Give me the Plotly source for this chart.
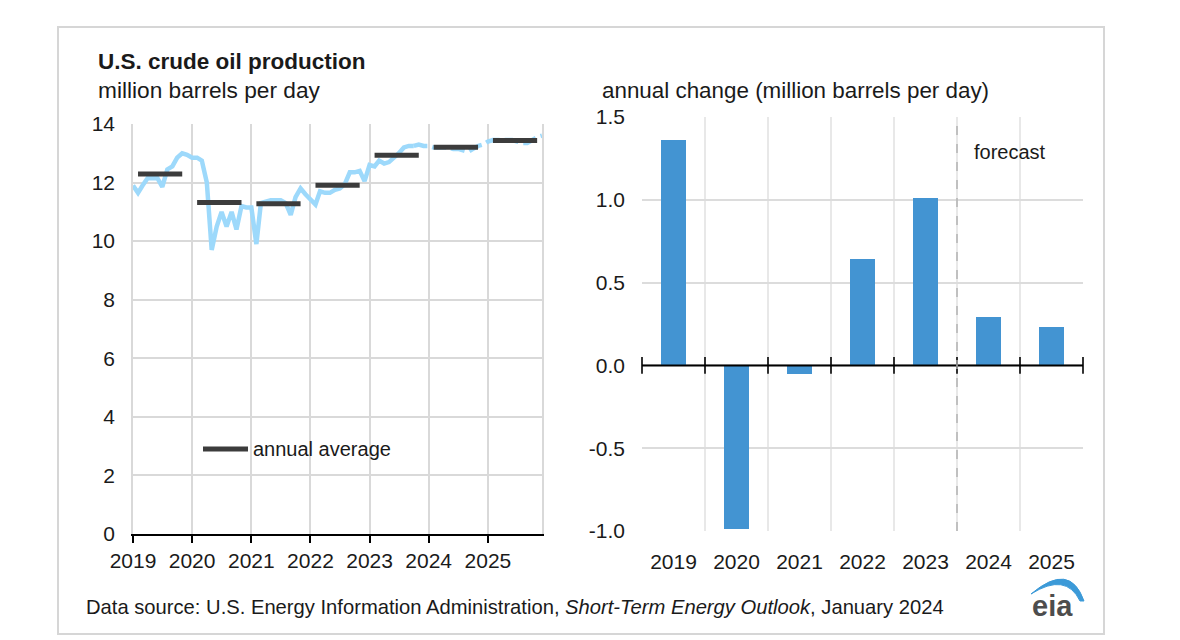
import pandas as pd
import plotly.graph_objects as go

# ---------------- data ----------------
years = [2019, 2020, 2021, 2022, 2023, 2024, 2025]

# monthly U.S. crude oil production, million barrels per day (Jan 2019 - Dec 2025)
production = [
    # 2019
    11.90, 11.65, 11.90, 12.15, 12.15, 12.15, 11.85, 12.45, 12.55, 12.85, 13.00, 12.95,
    # 2020
    12.85, 12.85, 12.75, 12.00, 9.70, 10.50, 11.00, 10.50, 11.00, 10.40, 11.20, 11.15,
    # 2021
    11.15, 9.90, 11.30, 11.35, 11.40, 11.40, 11.40, 11.30, 10.90, 11.50, 11.80, 11.60,
    # 2022
    11.40, 11.25, 11.70, 11.65, 11.65, 11.75, 11.80, 11.95, 12.35, 12.35, 12.40, 12.05,
    # 2023
    12.60, 12.55, 12.75, 12.65, 12.70, 12.85, 13.00, 13.20, 13.25, 13.25, 13.30, 13.25,
    # 2024
    13.25, 13.20, 13.20, 13.20, 13.20, 13.15, 13.15, 13.10, 13.05, 13.15, 13.25, 13.30,
    # 2025
    13.40, 13.45, 13.45, 13.45, 13.45, 13.45, 13.40, 13.35, 13.35, 13.45, 13.55, 13.60,
]
last_history_month = "2023-10-01"

annual_average = [12.29, 11.32, 11.28, 11.91, 12.93, 13.21, 13.44]
annual_change = [1.36, -0.99, -0.05, 0.64, 1.01, 0.29, 0.23]
first_forecast_year = 2024

left_yticks = [0, 2, 4, 6, 8, 10, 12, 14]
right_yticks = [-1.0, -0.5, 0.0, 0.5, 1.0, 1.5]

# ---------------- layout helpers ----------------
W, H = 1180, 640
def px(x):
    return x / W
def py(y):
    return 1 - y / H

FONT = "Liberation Sans, Arial, sans-serif"
TXT = "#1a1a1a"
LIGHT_BLUE = "#9dd9fb"
BAR_BLUE = "#4394d2"
DARK = "#3c3c3c"
GRID = "#d9d9d9"

months = pd.date_range("2019-01-01", periods=len(production), freq="MS")
s = pd.Series(production, index=months)
hist = s[s.index <= last_history_month]
fcst = s[s.index >= last_history_month]

fig = go.Figure()

# monthly production (history solid, forecast dashed)
fig.add_trace(go.Scatter(x=hist.index, y=hist.values, mode="lines",
                         line=dict(color=LIGHT_BLUE, width=4.5),
                         showlegend=False, xaxis="x", yaxis="y"))
fig.add_trace(go.Scatter(x=fcst.index, y=fcst.values, mode="lines",
                         line=dict(color=LIGHT_BLUE, width=4.5, dash="14px,5px"),
                         showlegend=False, xaxis="x", yaxis="y"))

# annual averages as short horizontal segments
ax, ay = [], []
for yr, v in zip(years, annual_average):
    ax += [f"{yr}-02-01", f"{yr}-11-01", None]
    ay += [v, v, None]
fig.add_trace(go.Scatter(x=ax, y=ay, mode="lines", name="annual average",
                         line=dict(color=DARK, width=5), connectgaps=False,
                         showlegend=False, xaxis="x", yaxis="y"))

# annual change bars
idx = list(range(len(years)))
fig.add_trace(go.Bar(x=idx, y=annual_change, width=0.4,
                     marker=dict(color=BAR_BLUE, line=dict(width=0)),
                     showlegend=False, xaxis="x2", yaxis="y2"))

# zero axis line with crossing tick marks at category boundaries
bounds = [i - 0.5 for i in range(len(years) + 1)]
fig.add_trace(go.Scatter(x=bounds, y=[0] * len(bounds), mode="lines+markers",
                         line=dict(color="black", width=2),
                         marker=dict(symbol="line-ns-open", size=12,
                                     line=dict(color="black", width=1.6)),
                         cliponaxis=False, showlegend=False, hoverinfo="skip",
                         xaxis="x2", yaxis="y2"))

tickfont = dict(family=FONT, size=21, color=TXT)

fig.update_layout(
    template="none",
    width=W, height=H, autosize=False,
    margin=dict(l=0, r=0, t=0, b=0, pad=0, autoexpand=False),
    paper_bgcolor="white", plot_bgcolor="white",
    font=dict(family=FONT, color=TXT),
    bargap=0,
    showlegend=False,
    xaxis=dict(
        domain=[px(133), px(542)],
        type="date",
        range=[months[0], months[-1]],
        tickmode="array",
        tickvals=[f"{y}-01-01" for y in years],
        ticktext=[str(y) for y in years],
        showgrid=True, gridcolor=GRID, gridwidth=1.5,
        showline=True, linecolor="black", linewidth=2,
        ticks="outside", ticklen=7, tickwidth=1.5, tickcolor="black",
        tickfont=tickfont, ticklabelstandoff=0,
        zeroline=False, anchor="y", automargin=False,
    ),
    yaxis=dict(
        domain=[py(534), py(124)],
        range=[0, 14],
        tickmode="array", tickvals=left_yticks,
        ticktext=[str(v) for v in left_yticks],
        showgrid=True, gridcolor=GRID, gridwidth=1.5,
        showline=True, linecolor=GRID, linewidth=1.5, mirror=True,
        ticks="", tickfont=tickfont, ticklabelstandoff=12,
        zeroline=False, anchor="x", automargin=False,
    ),
    xaxis2=dict(
        domain=[px(642), px(1083)],
        range=[-0.5, len(years) - 0.5],
        tickmode="array", tickvals=idx, ticktext=[str(y) for y in years],
        showgrid=False, showline=False, ticks="",
        minor=dict(tickmode="array", tickvals=bounds, showgrid=True,
                   gridcolor="#e8e8e8", gridwidth=1.5, ticks=""),
        tickfont=tickfont, ticklabelstandoff=16,
        zeroline=False, anchor="y2", automargin=False,
    ),
    yaxis2=dict(
        domain=[py(531), py(117)],
        range=[-1.0, 1.5],
        tickmode="array", tickvals=right_yticks,
        ticktext=[f"{v:.1f}" for v in right_yticks],
        showgrid=True, gridcolor="#dcdcdc", gridwidth=1.5,
        showline=False, ticks="", zeroline=False,
        tickfont=tickfont, ticklabelstandoff=16, anchor="x2", automargin=False,
    ),
)

# in-chart key for the annual average series
fig.add_shape(type="line", xref="paper", yref="paper",
              x0=px(203), x1=px(248), y0=py(449), y1=py(449),
              line=dict(color=DARK, width=5))
fig.add_annotation(xref="paper", yref="paper", x=px(251), y=py(449), xanchor="left", yanchor="middle",
                   text="annual average", showarrow=False,
                   font=dict(family=FONT, size=20, color=TXT))

# forecast divider
fc = years.index(first_forecast_year) - 0.5
fig.add_shape(type="line", xref="x2", yref="y2 domain", x0=fc, x1=fc, y0=0, y1=1,
              line=dict(color="#b3b3b3", width=1.5, dash="dash"))
fig.add_annotation(xref="x2", yref="y2", x=fc, y=1.29, xanchor="left", yanchor="middle",
                   xshift=15, text="forecast", showarrow=False,
                   font=dict(family=FONT, size=20, color=TXT))

# outer frame
fig.add_shape(type="rect", xref="paper", yref="paper",
              x0=px(58), x1=px(1104), y0=py(634), y1=py(27),
              line=dict(color="#d6d6d6", width=2), fillcolor="rgba(0,0,0,0)", layer="below")

# titles
fig.add_annotation(xref="paper", yref="paper", x=px(96), y=py(61), xanchor="left", yanchor="middle",
                   text="<b>U.S. crude oil production</b>", showarrow=False,
                   font=dict(family=FONT, size=22.5, color=TXT))
fig.add_annotation(xref="paper", yref="paper", x=px(96), y=py(90), xanchor="left", yanchor="middle",
                   text="million barrels per day", showarrow=False,
                   font=dict(family=FONT, size=22.7, color=TXT))
fig.add_annotation(xref="paper", yref="paper", x=px(600), y=py(90), xanchor="left", yanchor="middle",
                   text="annual change (million barrels per day)", showarrow=False,
                   font=dict(family=FONT, size=22.4, color=TXT))

# footer
fig.add_annotation(xref="paper", yref="paper", x=px(84), y=py(607), xanchor="left", yanchor="middle",
                   text="Data source: U.S. Energy Information Administration, <i>Short-Term Energy Outlook</i>, January 2024",
                   showarrow=False, font=dict(family=FONT, size=20.2, color=TXT))

# eia logo
fig.add_annotation(xref="paper", yref="paper", x=px(1052), y=py(606), xanchor="center", yanchor="middle",
                   text="<b>eia</b>", showarrow=False,
                   font=dict(family=FONT, size=29, color="#4d4d4d"))
def P(x, y):
    return f"{px(x):.5f},{py(y):.5f}"
arc = (f"M {P(1031,594)} Q {P(1070,561)} {P(1084,601)} L {P(1080,601)} "
       f"Q {P(1066,572)} {P(1031,594)} Z")
fig.add_shape(type="path", xref="paper", yref="paper", path=arc,
              fillcolor="#3c9ad8", line=dict(color="#3c9ad8", width=1))

fig.write_html("out.html", config={"responsive": False, "displayModeBar": False},
               post_script="document.body.style.margin='0';")
